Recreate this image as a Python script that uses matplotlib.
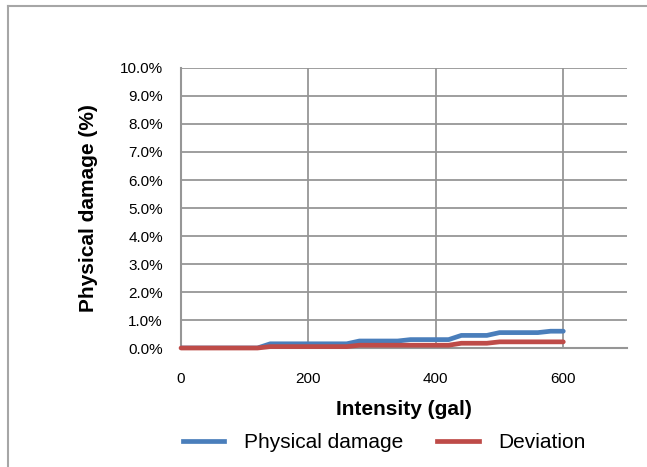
import matplotlib.pyplot as plt
from matplotlib.lines import Line2D
import numpy as np

plt.rcParams['font.family'] = ['Liberation Sans', 'DejaVu Sans']

# intensity (gal), sampled every 20 gal
intensity = [0, 20, 40, 60, 80, 100, 120, 140, 160, 180, 200, 220, 240, 260,
             280, 300, 320, 340, 360, 380, 400, 420, 440, 460, 480,
             500, 520, 540, 560, 580, 600]
physical_damage = [0, 0, 0, 0, 0, 0, 0,
                   0.15, 0.15, 0.15, 0.15, 0.15, 0.15, 0.15,
                   0.25, 0.25, 0.25, 0.25,
                   0.30, 0.30, 0.30, 0.30,
                   0.45, 0.45, 0.45,
                   0.55, 0.55, 0.55, 0.55,
                   0.60, 0.60]
deviation = [0, 0, 0, 0, 0, 0, 0,
             0.05, 0.05, 0.05, 0.05, 0.05, 0.05, 0.05,
             0.10, 0.10, 0.10, 0.10, 0.10, 0.10, 0.10, 0.10,
             0.17, 0.17, 0.17,
             0.22, 0.22, 0.22, 0.22, 0.22, 0.22]
x_ticks = [0, 200, 400, 600]
y_ticks = np.arange(0, 10.5, 1.0)

blue = '#4A7EBB'
red = '#BE4B48'
grid_col = '#969696'

fig = plt.figure(figsize=(6.47, 4.67), dpi=100)
ax = fig.add_axes([0.2798, 0.2548, 0.6893, 0.5996])

ax.plot(intensity, physical_damage, color=blue, lw=3.4, solid_capstyle='round', zorder=3)
ax.plot(intensity, deviation, color=red, lw=3.4, solid_capstyle='round', zorder=3, clip_on=False)

ax.set_xlim(0, 700)
ax.set_ylim(0, 10)
ax.set_xticks(x_ticks)
ax.set_yticks(y_ticks)
ax.set_yticklabels(['%.1f%%' % v for v in y_ticks])
ax.tick_params(length=0, labelsize=11, colors='black')
ax.tick_params(axis='x', pad=17)
ax.tick_params(axis='y', pad=13)
ax.grid(True, color=grid_col, lw=1.3)
ax.set_axisbelow(True)
for s in ['top', 'right']:
    ax.spines[s].set_visible(False)
for s in ['left', 'bottom']:
    ax.spines[s].set_color(grid_col)
    ax.spines[s].set_linewidth(1.5)

ax.set_xlabel('Intensity (gal)', fontsize=15, fontweight='bold', labelpad=10)
ax.set_ylabel('Physical damage (%)', fontsize=15, fontweight='bold', labelpad=16)

handles = [Line2D([], [], color=blue, lw=3.4), Line2D([], [], color=red, lw=3.4)]
fig.legend(handles, ['Physical damage', 'Deviation'], loc='center',
           bbox_to_anchor=(0.594, 0.052), ncol=2, frameon=False, fontsize=15,
           handlelength=2.0, handletextpad=0.96, columnspacing=1.6)

# outer chart border (cropped at right and bottom)
fig.add_artist(Line2D([8 / 647, 8 / 647], [0, 1 - 6 / 467], color='#A6A6A6', lw=1.5))
fig.add_artist(Line2D([8 / 647, 1], [1 - 6 / 467, 1 - 6 / 467], color='#A6A6A6', lw=1.5))

fig.savefig('out.png', dpi=100)
